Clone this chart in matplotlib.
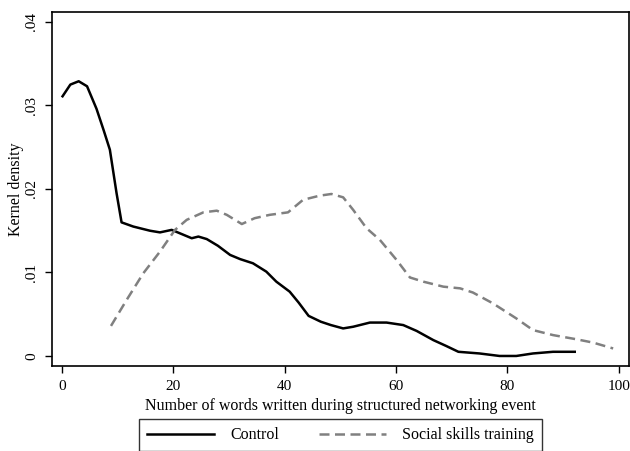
import matplotlib.pyplot as plt

plt.rcParams['font.family'] = ['Liberation Serif', 'DejaVu Serif']

# control group density
ctrl_x = [0.1, 1.5, 3.0, 4.5, 6.2, 7.5, 8.6, 9.8, 10.7, 12.8, 15.8, 17.6, 19.7, 21.5, 23.3,
          24.5, 26.0, 28.0, 30.2, 32.0, 34.3, 36.7, 38.5, 40.9, 42.5, 44.3, 46.5, 48.3,
          50.5, 52.3, 55.3, 58.3, 61.3, 63.7, 66.7, 69.0, 71.2, 75.0, 78.6, 81.6, 84.6,
          88.2, 92.1]
ctrl_y = [0.0311, 0.0325, 0.0329, 0.0323, 0.0296, 0.0270, 0.0247, 0.0195, 0.0160, 0.0155,
          0.0150, 0.0148, 0.0151, 0.0146, 0.0141, 0.0143, 0.0140, 0.0132, 0.0121, 0.0116,
          0.0111, 0.0101, 0.0089, 0.0077, 0.0064, 0.0048, 0.0041, 0.0037, 0.0033, 0.0035,
          0.0040, 0.0040, 0.0037, 0.0030, 0.0019, 0.0012, 0.0005, 0.0003, 0.0000, 0.0000,
          0.0003, 0.0005, 0.0005]

# social skills training density
sst_x = [8.8, 11.6, 14.6, 17.6, 20.3, 22.4, 25.4, 27.8, 29.6, 32.3, 34.6, 37.3, 40.6, 43.3,
         46.3, 48.4, 50.5, 52.3, 54.7, 57.1, 60.1, 62.5, 64.9, 68.5, 71.5, 73.8, 77.4,
         81.6, 84.6, 88.2, 92.4, 95.4, 99.0]
sst_y = [0.0036, 0.0067, 0.0099, 0.0125, 0.0151, 0.0163, 0.0172, 0.0174, 0.0169, 0.0158,
         0.0165, 0.0169, 0.0172, 0.0187, 0.0192, 0.0194, 0.0190, 0.0175, 0.0153, 0.0139,
         0.0115, 0.0094, 0.0089, 0.0083, 0.0081, 0.0076, 0.0063, 0.0045, 0.0031, 0.0025,
         0.0020, 0.0016, 0.0009]

xticks = [0, 20, 40, 60, 80, 100]
yticks = [0, 0.01, 0.02, 0.03, 0.04]
ytick_labels = ['0', '.01', '.02', '.03', '.04']

fig = plt.figure(figsize=(6.3, 4.51), dpi=100)
ax = fig.add_axes([0.0825, 0.1885, 0.9155, 0.785])

ax.plot(ctrl_x, ctrl_y, color='black', lw=1.8, label='Control', solid_joinstyle='round')
ax.plot(sst_x, sst_y, color='#808080', lw=1.8, dashes=(4, 2.2), label='Social skills training')

ax.set_xlim(-1.8, 101.8)
ax.set_ylim(-0.0012, 0.0412)
ax.set_xticks(xticks)
ax.set_yticks(yticks)
ax.set_yticklabels(ytick_labels, rotation=90, va='center')
ax.tick_params(direction='out', length=5, width=1, labelsize=11, pad=5)
for s in ax.spines.values():
    s.set_linewidth(1.2)

ax.set_xlabel('Number of words written during structured networking event', fontsize=11.5, labelpad=4)
ax.set_ylabel('Kernel density', fontsize=11.5, labelpad=1)

leg = ax.legend(loc='upper center', bbox_to_anchor=(0.5, -0.128), ncol=2, fontsize=11.5,
                frameon=True, fancybox=False, handlelength=4.2, columnspacing=2.5,
                borderpad=0.5, handletextpad=1.0)
leg.get_frame().set_edgecolor('black')
leg.get_frame().set_linewidth(1.0)

fig.savefig('out.png', dpi=100)
